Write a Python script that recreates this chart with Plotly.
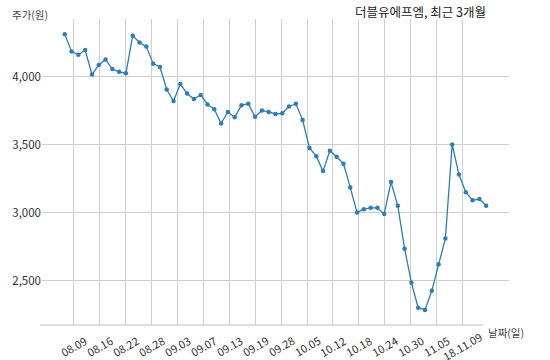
import plotly.graph_objects as go
import numpy as np

prices = [4310, 4185, 4160, 4195, 4015, 4085, 4125, 4055, 4035, 4025,
          4300, 4250, 4220, 4095, 4070, 3905, 3820, 3945, 3875, 3835,
          3865, 3795, 3760, 3655, 3740, 3700, 3790, 3800, 3705, 3750,
          3740, 3725, 3730, 3780, 3800, 3680, 3475, 3415, 3305, 3455,
          3410, 3360, 3185, 3000, 3025, 3035, 3035, 2990, 3225, 3050,
          2735, 2485, 2300, 2285, 2425, 2620, 2810, 3500, 3280, 3150,
          3090, 3100, 3050]
idx = list(range(len(prices)))

tick_labels = ["08.09", "08.16", "08.22", "08.28", "09.03", "09.07", "09.13", "09.19",
               "09.28", "10.05", "10.12", "10.18", "10.24", "10.30", "11.05", "18.11.09"]
tick_pos = list(np.linspace(1.35, 58.52, len(tick_labels)))
y_ticks = [2500, 3000, 3500, 4000]
y_tick_text = ["2,500", "3,000", "3,500", "4,000"]

title_text = "더블유에프엠, 최근 3개월"
y_title = "주가(원)"
x_title = "날짜(일)"

FONT = "Noto Sans CJK KR, Malgun Gothic, sans-serif"
LINE = "#2f7db5"

fig = go.Figure()
fig.add_trace(go.Scatter(
    x=idx, y=prices, mode="lines+markers",
    line=dict(color=LINE, width=1.3),
    marker=dict(color=LINE, size=4.5),
    hoverinfo="skip", showlegend=False,
))

annotations = []
for p, t in zip(tick_pos, tick_labels):
    annotations.append(dict(
        x=p, xref="x", y=-0.07, yref="paper", text=t, showarrow=False,
        textangle=-30, xanchor="center", yanchor="middle",
        font=dict(family=FONT, size=11, color="#333333")))
annotations.append(dict(x=0.951, xref="paper", y=-0.026, yref="paper", text=x_title,
                        showarrow=False, xanchor="left", yanchor="middle",
                        font=dict(family=FONT, size=10.5, color="#444444")))
annotations.append(dict(x=0.956, xref="paper", y=1.026, yref="paper", text=title_text,
                        showarrow=False, xanchor="right", yanchor="middle",
                        font=dict(family=FONT, size=12.5, color="#222222")))
annotations.append(dict(x=-0.068, xref="paper", y=1.016, yref="paper", text=y_title,
                        showarrow=False, xanchor="left", yanchor="middle",
                        font=dict(family=FONT, size=10.5, color="#444444")))

fig.update_layout(
    width=550, height=360,
    margin=dict(l=37, r=41, t=19, b=35),
    paper_bgcolor="white", plot_bgcolor="white",
    xaxis=dict(range=[-3.35, 65.36], tickmode="array", tickvals=tick_pos,
               showticklabels=False, showgrid=True, gridcolor="#cfcfcf", gridwidth=1,
               zeroline=False, showline=False, ticks=""),
    yaxis=dict(range=[2174, 4423], tickmode="array", tickvals=y_ticks, ticktext=y_tick_text,
               showgrid=True, gridcolor="#cfcfcf", gridwidth=1, zeroline=False,
               showline=False, ticks="",
               tickfont=dict(family=FONT, size=11.5, color="#333333")),
    annotations=annotations,
    shapes=[dict(type="line", xref="paper", yref="paper", x0=-0.004, x1=0.945, y0=0, y1=0,
                 line=dict(color="#bdbdbd", width=1.2))],
)

fig.write_html("out.html")
